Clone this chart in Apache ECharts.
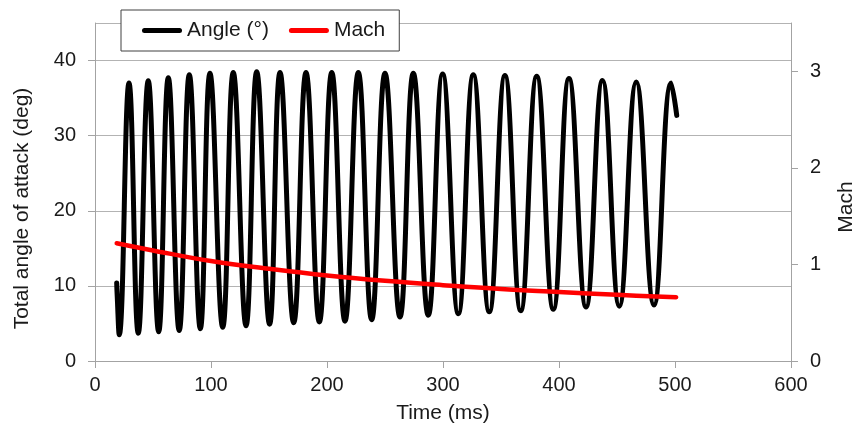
<!DOCTYPE html>
<html>
<head>
<meta charset="utf-8">
<script src="https://cdn.jsdelivr.net/npm/echarts@6/dist/echarts.min.js"></script>
<style>
  html, body { margin: 0; padding: 0; background: #ffffff; }
  #chart { width: 856px; height: 429px; }
</style>
</head>
<body>
<div id="chart"></div>
<script>
// Total angle of attack (deg) against time (ms): start, then alternating troughs and peaks, then the last sample
const angleTime = [18.7, 19.1,
  20.9, 29.3, 37.3, 45.9, 54.9, 63.2, 72.6, 81.3, 90.8, 99.1,
  110.1, 119.2, 130.2, 139.4, 150.5, 159.5, 171.3, 181.9, 193.4, 204.1,
  215.5, 227.0, 238.5, 250.0, 262.9, 274.4, 287.3, 299.7, 313.2, 326.1,
  339.9, 353.4, 367.0, 380.8, 395.1, 408.6, 423.3, 437.5, 452.0, 466.6,
  481.9, 496.7,
  501.5];
const angleValue = [10.4, 8.8,
  3.5, 37.0, 3.7, 37.3, 3.9, 37.7, 4.05, 38.1, 4.3, 38.3,
  4.5, 38.4, 4.7, 38.5, 4.9, 38.4, 5.1, 38.4, 5.2, 38.4,
  5.3, 38.4, 5.5, 38.3, 5.85, 38.3, 6.1, 38.2, 6.3, 38.1,
  6.55, 38.0, 6.7, 37.9, 6.9, 37.6, 7.2, 37.35, 7.3, 37.15,
  7.45, 37.0,
  32.7];

// Mach number against time (ms)
const machTime = [18.7, 50, 100, 150, 200, 250, 300, 350, 400, 450, 501];
const machValue = [1.22, 1.145, 1.035, 0.955, 0.885, 0.83, 0.785, 0.745, 0.715, 0.685, 0.66];

// Axis ranges and tick steps
const timeTicks = { min: 0, max: 600, step: 100 };
const angleTicks = { min: 0, max: 45, step: 10 };
const machTicks = { min: 0, max: 3.5, step: 1 };

const seriesNames = ['Angle (°)', 'Mach'];

const zip = (xs, ys) => xs.map((x, i) => [x, ys[i]]);

const FONT = '"Liberation Sans", Arial, Helvetica, sans-serif';
const TEXT = '#1a1a1a';
const AXIS = '#a3a3a3';
const GRID = '#b3b3b3';
// legend swatch: a thick line segment with rounded ends
const LINE_ICON = 'path://M2.5,0 L37.5,0 A2.5,2.5 0 0 1 37.5,5 L2.5,5 A2.5,2.5 0 0 1 2.5,0 Z';

const chart = echarts.init(document.getElementById('chart'), null, { renderer: 'canvas' });

chart.setOption({
  animation: false,
  backgroundColor: '#ffffff',
  textStyle: { fontFamily: FONT },
  grid: { left: 95, right: 65, top: 23, bottom: 68, containLabel: false, outerBoundsMode: 'none' },
  legend: {
    data: seriesNames.map(name => ({ name: name, icon: LINE_ICON })),
    left: 121,
    top: 10,
    orient: 'horizontal',
    padding: [10, 14, 10, 21],
    itemGap: 20,
    itemWidth: 40,
    itemHeight: 5,
    borderColor: '#404040',
    borderWidth: 1,
    backgroundColor: '#ffffff',
    textStyle: { fontSize: 21, color: TEXT, fontFamily: FONT }
  },
  xAxis: {
    type: 'value',
    min: timeTicks.min,
    max: timeTicks.max,
    interval: timeTicks.step,
    name: 'Time (ms)',
    nameLocation: 'middle',
    nameGap: 42,
    nameTextStyle: { fontSize: 21, color: TEXT, fontFamily: FONT },
    axisLine: { show: true, lineStyle: { color: AXIS, width: 1 } },
    axisTick: { show: true, length: 7, lineStyle: { color: AXIS, width: 1 } },
    axisLabel: { fontSize: 20, color: TEXT, margin: 14, fontFamily: FONT },
    splitLine: { show: false }
  },
  yAxis: [
    {
      type: 'value',
      position: 'left',
      min: angleTicks.min,
      max: angleTicks.max,
      interval: angleTicks.step,
      name: 'Total angle of attack (deg)',
      nameLocation: 'middle',
      nameGap: 62,
      nameTextStyle: { fontSize: 21, color: TEXT, fontFamily: FONT, padding: [0, 33, 0, 0] },
      axisLine: { show: true, lineStyle: { color: AXIS, width: 1 } },
      axisTick: { show: true, length: 7, lineStyle: { color: AXIS, width: 1 } },
      axisLabel: { fontSize: 20, color: TEXT, margin: 19, showMaxLabel: false, fontFamily: FONT },
      splitLine: { show: true, lineStyle: { color: GRID, width: 1 } }
    },
    {
      type: 'value',
      position: 'right',
      min: machTicks.min,
      max: machTicks.max,
      interval: machTicks.step,
      name: 'Mach',
      nameLocation: 'middle',
      nameGap: 45,
      nameTextStyle: { fontSize: 21, color: TEXT, fontFamily: FONT, padding: [0, 30, 0, 0] },
      axisLine: { show: true, lineStyle: { color: AXIS, width: 1 } },
      axisTick: { show: true, length: 7, lineStyle: { color: AXIS, width: 1 } },
      axisLabel: { fontSize: 20, color: TEXT, margin: 19, showMaxLabel: false, fontFamily: FONT },
      splitLine: { show: false }
    }
  ],
  series: [
    {
      name: seriesNames[0],
      type: 'line',
      xAxisIndex: 0,
      yAxisIndex: 0,
      data: zip(angleTime, angleValue),
      symbol: 'none',
      smooth: 0.45,
      lineStyle: { color: '#000000', width: 5, cap: 'round', join: 'round' },
      itemStyle: { color: '#000000' },
      z: 2
    },
    {
      name: seriesNames[1],
      type: 'line',
      xAxisIndex: 0,
      yAxisIndex: 1,
      data: zip(machTime, machValue),
      symbol: 'none',
      smooth: 0.4,
      lineStyle: { color: '#ff0000', width: 4.5, cap: 'round', join: 'round' },
      itemStyle: { color: '#ff0000' },
      z: 3
    }
  ]
});
</script>
</body>
</html>
